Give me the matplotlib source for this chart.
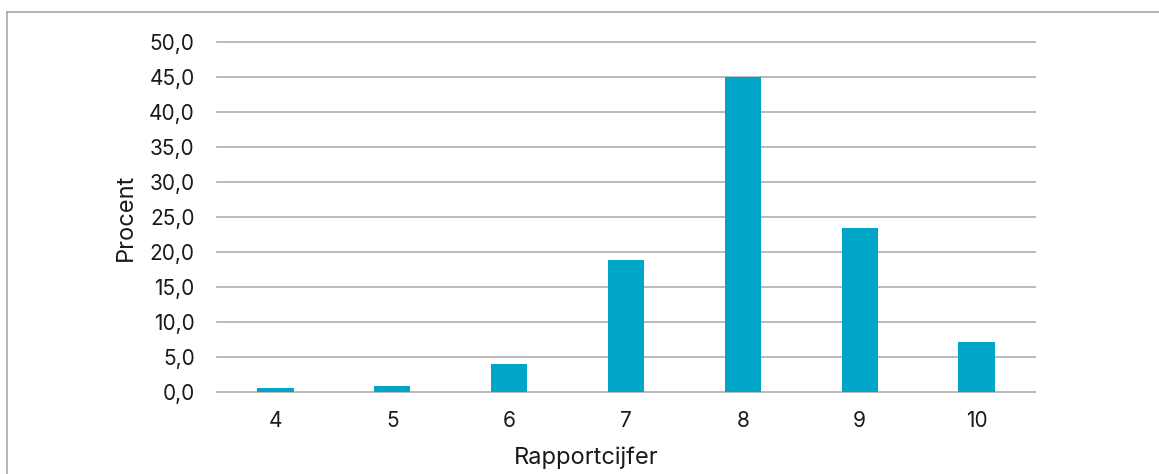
import matplotlib.pyplot as plt
from matplotlib.ticker import FuncFormatter, MultipleLocator
from matplotlib.lines import Line2D

plt.rcParams['font.family'] = ['Inter', 'DejaVu Sans']

cijfers = ['4', '5', '6', '7', '8', '9', '10']
procent = [0.5, 0.9, 4.0, 18.9, 45.0, 23.4, 7.1]

fig = plt.figure(figsize=(11.59, 4.74), dpi=100)
ax = fig.add_axes([0.1872, 0.173, 0.7058, 0.7384])

ax.bar(range(len(cijfers)), procent, width=0.31, color='#00A6C8', zorder=3)

ax.set_xlim(-0.5, len(cijfers) - 0.5)
ax.set_ylim(0, 50)
ax.yaxis.set_major_locator(MultipleLocator(5))
ax.yaxis.set_major_formatter(FuncFormatter(lambda v, p: f'{v:.1f}'.replace('.', ',')))
ax.set_xticks(range(len(cijfers)))
ax.set_xticklabels(cijfers)

ax.grid(axis='y', color='#b4b4b4', linewidth=1.3, zorder=0)
for gl in ax.get_ygridlines():
    gl.set_clip_on(False)
for s in ax.spines.values():
    s.set_visible(False)
ax.tick_params(axis='both', length=0, labelsize=15, colors='#1a1a1a')
ax.tick_params(axis='y', pad=16)
ax.tick_params(axis='x', pad=14)

ax.set_ylabel('Procent', fontsize=17, color='#1a1a1a', labelpad=9)
ax.set_xlabel('Rapportcijfer', fontsize=17, color='#1a1a1a', labelpad=11, x=0.451)

# kader links en boven
fig.add_artist(Line2D([7 / 1159, 7 / 1159], [0, 1 - 12 / 474], transform=fig.transFigure,
                      color='#a6a9b4', linewidth=1.2))
fig.add_artist(Line2D([7 / 1159, 1], [1 - 12 / 474, 1 - 12 / 474], transform=fig.transFigure,
                      color='#a6a9b4', linewidth=1.2))

fig.savefig('out.png', dpi=100)
